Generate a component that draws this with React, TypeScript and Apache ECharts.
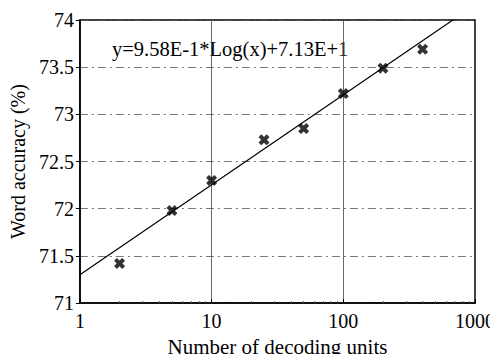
import React, { useEffect, useRef } from "react";
import * as echarts from "echarts";

const unitsX = [2, 5, 10, 25, 50, 100, 200, 400];
const accuracyY = [71.42, 71.98, 72.3, 72.73, 72.85, 73.22, 73.49, 73.69];
const trendX = [1, 1000];
const trendY = [71.3, 74.16];
const yTicks = [71, 71.5, 72, 72.5, 73, 73.5, 74];
const equationText = "y=9.58E-1*Log(x)+7.13E+1";
const xAxisTitle = "Number of decoding units";
const yAxisTitle = "Word accuracy (%)";

const FONT = "Liberation Serif";
const crossPath =
  "path://M2.6,0 L5,2.4 L7.4,0 L10,2.6 L7.6,5 L10,7.4 L7.4,10 L5,7.6 L2.6,10 L0,7.4 L2.4,5 L0,2.6 Z";

export default function App() {
  const ref = useRef<HTMLDivElement>(null);
  useEffect(() => {
    if (!ref.current) return;
    const chart = echarts.init(ref.current, null, { renderer: "svg" });
    chart.setOption({
      animation: false,
      backgroundColor: "#ffffff",
      textStyle: { fontFamily: FONT, color: "#000" },
      grid: {
        left: 77,
        top: 20,
        right: 21,
        bottom: 53,
        show: true,
        borderColor: "#000",
        borderWidth: 1.5,
        backgroundColor: "transparent",
      },
      graphic: [
        {
          type: "text",
          left: 112,
          top: 38,
          style: {
            text: equationText,
            fontFamily: FONT,
            fontSize: 20.5,
            fill: "#000",
          },
        },
      ],
      xAxis: {
        type: "log",
        logBase: 10,
        min: 1,
        max: 1000,
        name: xAxisTitle,
        nameLocation: "middle",
        nameGap: 18,
        nameTextStyle: { fontFamily: FONT, fontSize: 21, color: "#000" },
        axisLine: { show: true, lineStyle: { color: "#000", width: 1.5 } },
        axisTick: { show: true, inside: true, length: 4, lineStyle: { color: "#000" } },
        minorTick: { show: true, splitNumber: 9, length: 2, lineStyle: { color: "#555" } },
        axisLabel: {
          fontFamily: FONT,
          fontSize: 20,
          color: "#000",
          margin: 8,
          formatter: (v: number) => String(Math.round(v)),
        },
        splitLine: { show: true, lineStyle: { color: "#444", width: 0.8 } },
      },
      yAxis: {
        type: "value",
        min: 71,
        max: 74,
        interval: 0.5,
        name: yAxisTitle,
        nameLocation: "middle",
        nameGap: 46,
        nameTextStyle: { fontFamily: FONT, fontSize: 20, color: "#000" },
        axisLine: { show: true, lineStyle: { color: "#000", width: 1.5 } },
        axisTick: { show: true, inside: false, length: 4, lineStyle: { color: "#000" } },
        axisLabel: {
          fontFamily: FONT,
          fontSize: 20,
          color: "#000",
          margin: 6,
          formatter: (v: number) => (yTicks.includes(v) ? String(v) : ""),
        },
        splitLine: {
          show: true,
          lineStyle: { color: "#555", width: 0.8, type: [8, 4, 2, 4] },
        },
      },
      series: [
        {
          type: "line",
          data: trendX.map((x, i) => [x, trendY[i]]),
          showSymbol: false,
          symbol: "none",
          clip: true,
          lineStyle: { color: "#000", width: 1.2 },
          z: 3,
        },
        {
          type: "scatter",
          data: unitsX.map((x, i) => [x, accuracyY[i]]),
          symbol: crossPath,
          symbolSize: 11,
          itemStyle: { color: "#000" },
          z: 4,
        },
      ],
    });
    return () => chart.dispose();
  }, []);
  return <div ref={ref} style={{ width: 498, height: 362, margin: -8 }} />;
}
